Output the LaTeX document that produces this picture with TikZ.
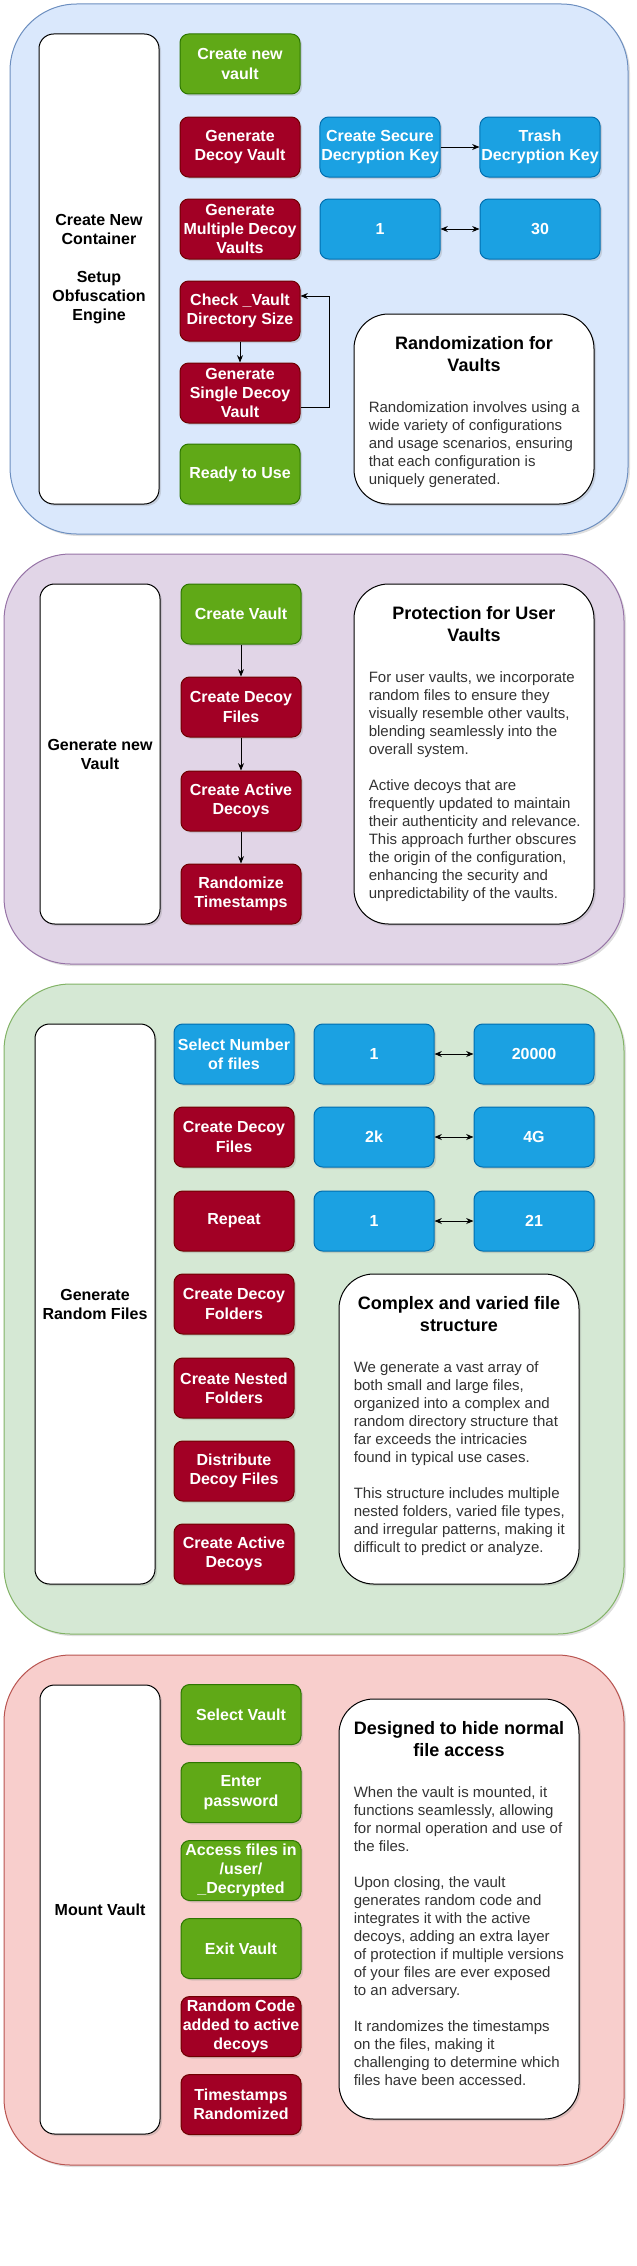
\documentclass[tikz,border=0pt]{standalone}
\usepackage{fontspec}
\setmainfont{Liberation Sans}
\usetikzlibrary{arrows.meta,shadows,calc}

\definecolor{vgreen}{HTML}{60A917}
\definecolor{vgreenline}{HTML}{2D7600}
\definecolor{vred}{HTML}{A20025}
\definecolor{vredline}{HTML}{6F0000}
\definecolor{vblue}{HTML}{1BA1E2}
\definecolor{vblueline}{HTML}{006EAF}
\definecolor{notetext}{HTML}{333333}

\tikzset{
  shade/.style={drop shadow={opacity=0.25,shadow xshift=1.5pt,shadow yshift=-1.5pt}},
  item/.style={rounded corners=6.5pt, minimum width=90pt, minimum height=45pt, inner sep=1pt, align=center,
    text=white, line width=0.75pt, font=\bfseries\fontsize{12}{14.5}\selectfont, shade},
  itemgreen/.style={item, fill=vgreen, draw=vgreenline},
  itemred/.style={item, fill=vred, draw=vredline},
  itemblue/.style={item, fill=vblue, draw=vblueline},
  lane/.style={draw=black, fill=white, rounded corners=11pt, minimum width=90pt, inner sep=1pt, align=center,
    line width=0.75pt, font=\bfseries\fontsize{12}{14.25}\selectfont, shade},
  note/.style={draw=black, fill=white, rounded corners=26pt, minimum width=180pt, line width=0.75pt, shade},
  notetitle/.style={anchor=north, inner sep=0pt, align=center, font=\bfseries\fontsize{13.5}{16.5}\selectfont},
  notebody/.style={anchor=north west, inner sep=0pt, align=left, text=notetext, font=\fontsize{11.25}{13.5}\selectfont},
  link/.style={-{Stealth[length=5.5pt,width=4.5pt]}, line width=0.75pt},
  dlink/.style={{Stealth[length=5.5pt,width=4.5pt]}-{Stealth[length=5.5pt,width=4.5pt]}, line width=0.75pt},
  group/.style={line width=0.75pt, rounded corners=50pt, shade}
}

\begin{document}
\begin{tikzpicture}[x=0.75pt,y=0.75pt,yscale=-1,xscale=1]
\useasboundingbox (0,0) rectangle (636,2266);

%Rounded Rect [create container]
\draw [group, fill={rgb,255:red,218;green,232;blue,252}, draw={rgb,255:red,108;green,142;blue,191}] (10,4) rectangle (628,534);
%Rounded Rect [generate vault]
\draw [group, fill={rgb,255:red,225;green,213;blue,231}, draw={rgb,255:red,150;green,115;blue,166}] (4,554) rectangle (624,964);
%Rounded Rect [random files]
\draw [group, fill={rgb,255:red,213;green,232;blue,212}, draw={rgb,255:red,130;green,179;blue,102}] (4,984) rectangle (624,1634);
%Rounded Rect [mount vault]
\draw [group, fill={rgb,255:red,248;green,206;blue,204}, draw={rgb,255:red,184;green,84;blue,80}] (4,1655) rectangle (624,2165);

% ---- Create New Container
\node [lane, minimum height=352.5pt] (laneCreate) at (99,269) {Create New\\Container\\[14.25pt]Setup\\Obfuscation\\Engine};
\node [itemgreen] (newVault) at (240,64) {Create new\\vault};
\node [itemred] (decoyVault) at (240,147) {Generate\\Decoy Vault};
\node [itemred] (multiVault) at (240,229) {Generate\\Multiple Decoy\\Vaults};
\node [itemred] (checkSize) at (240,311) {Check \_Vault\\Directory Size};
\node [itemred] (singleVault) at (240,393) {Generate\\Single Decoy\\Vault};
\node [itemgreen] (readyUse) at (240,474) {Ready to Use};
\node [itemblue] (secureKey) at (380,147) {Create Secure\\Decryption Key};
\node [itemblue] (trashKey) at (540,147) {Trash\\Decryption Key};
\node [itemblue] (vaultMin) at (380,229) {1};
\node [itemblue] (vaultMax) at (540,229) {30};
\node [note, minimum height=142.5pt] (noteRandom) at (474,409) {};
\node [notetitle] (noteRandomT) at ($(noteRandom.north)+(0,23)$) {Randomization for\\Vaults};
\node [notebody] (noteRandomB) at ($(noteRandom.north west)+(15,88)$) {Randomization involves using a\\wide variety of configurations\\and usage scenarios, ensuring\\that each configuration is\\uniquely generated.};

%Straight Lines
\draw [link] (secureKey) -- (trashKey);
\draw [dlink] (vaultMin) -- (vaultMax);
\draw [link] (checkSize) -- (singleVault);
\coordinate (loopTop) at (329,296);
\draw [link] ($(singleVault.east)+(0,14)$) -| (loopTop) -- (checkSize.east |- loopTop);

% ---- Generate new Vault
\node [lane, minimum height=255pt] (laneVault) at (100,754) {Generate new\\Vault};
\node [itemgreen] (createVault) at (241,614) {Create Vault};
\node [itemred] (decoyFiles) at (241,707) {Create Decoy\\Files};
\node [itemred] (activeDecoys) at (241,801) {Create Active\\Decoys};
\node [itemred] (randStamps) at (241,894) {Randomize\\Timestamps};
\node [note, minimum height=255pt] (noteUser) at (474,754) {};
\node [notetitle] (noteUserT) at ($(noteUser.north)+(0,23)$) {Protection for User\\Vaults};
\node [notebody] (noteUserB) at ($(noteUser.north west)+(15,88)$) {For user vaults, we incorporate\\random files to ensure they\\visually resemble other vaults,\\blending seamlessly into the\\overall system.\\[13.5pt]Active decoys that are\\frequently updated to maintain\\their authenticity and relevance.\\This approach further obscures\\the origin of the configuration,\\enhancing the security and\\unpredictability of the vaults.};

%Straight Lines
\draw [link] (createVault) -- (decoyFiles);
\draw [link] (decoyFiles) -- (activeDecoys);
\draw [link] (activeDecoys) -- (randStamps);

% ---- Generate Random Files
\node [lane, minimum height=420pt] (laneFiles) at (95,1304) {Generate\\Random Files};
\node [itemblue] (numFiles) at (234,1054) {Select Number\\of files};
\node [itemred] (decoyFiles2) at (234,1137) {Create Decoy\\Files};
\node [itemred] (repeatRun) at (234,1221) {Repeat};
\node [itemred] (decoyFolders) at (234,1304) {Create Decoy\\Folders};
\node [itemred] (nestedFolders) at (234,1388) {Create Nested\\Folders};
\node [itemred] (distFiles) at (234,1471) {Distribute\\Decoy Files};
\node [itemred] (activeDecoys2) at (234,1554) {Create Active\\Decoys};
\node [itemblue] (filesMin) at (374,1054) {1};
\node [itemblue] (filesMax) at (534,1054) {20000};
\node [itemblue] (sizeMin) at (374,1137) {2k};
\node [itemblue] (sizeMax) at (534,1137) {4G};
\node [itemblue] (repMin) at (374,1221) {1};
\node [itemblue] (repMax) at (534,1221) {21};
\node [note, minimum height=232.5pt] (noteTree) at (459,1429) {};
\node [notetitle] (noteTreeT) at ($(noteTree.north)+(0,23)$) {Complex and varied file\\structure};
\node [notebody] (noteTreeB) at ($(noteTree.north west)+(15,88)$) {We generate a vast array of\\both small and large files,\\organized into a complex and\\random directory structure that\\far exceeds the intricacies\\found in typical use cases.\\[13.5pt]This structure includes multiple\\nested folders, varied file types,\\and irregular patterns, making it\\difficult to predict or analyze.};

%Straight Lines
\draw [dlink] (filesMin) -- (filesMax);
\draw [dlink] (sizeMin) -- (sizeMax);
\draw [dlink] (repMin) -- (repMax);

% ---- Mount Vault
\node [lane, minimum height=336.75pt] (laneMount) at (100,1909.5) {Mount Vault};
\node [itemgreen] (selVault) at (241,1714.5) {Select Vault};
\node [itemgreen] (password) at (241,1792.5) {Enter\\password};
\node [itemgreen] (accessFiles) at (241,1870.5) {Access files in\\/user/\\\_Decrypted};
\node [itemgreen] (exitVault) at (241,1948.5) {Exit Vault};
\node [itemred] (randCode) at (241,2026.5) {Random Code\\added to active\\decoys};
\node [itemred] (stampsDone) at (241,2104.5) {Timestamps\\Randomized};
\node [note, minimum height=315pt] (noteHide) at (459,1909) {};
\node [notetitle] (noteHideT) at ($(noteHide.north)+(0,23)$) {Designed to hide normal\\file access};
\node [notebody] (noteHideB) at ($(noteHide.north west)+(15,88)$) {When the vault is mounted, it\\functions seamlessly, allowing\\for normal operation and use of\\the files.\\[13.5pt]Upon closing, the vault\\generates random code and\\integrates it with the active\\decoys, adding an extra layer\\of protection if multiple versions\\of your files are ever exposed\\to an adversary.\\[13.5pt]It randomizes the timestamps\\on the files, making it\\challenging to determine which\\files have been accessed.};

\end{tikzpicture}
\end{document}
